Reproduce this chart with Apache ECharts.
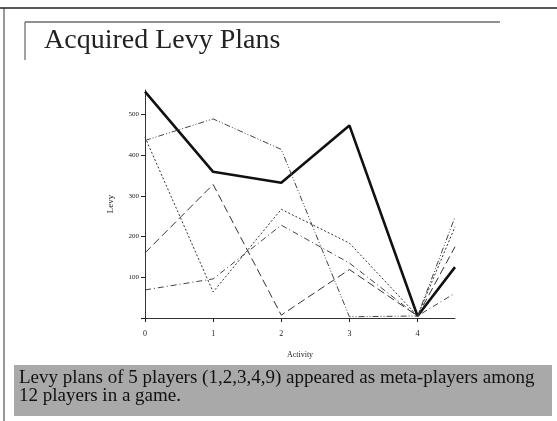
<!DOCTYPE html>
<html>
<head>
<meta charset="utf-8">
<script src="https://cdn.jsdelivr.net/npm/echarts@6/dist/echarts.min.js"></script>
<style>
  html, body { margin: 0; padding: 0; background: #fff; }
  #chart { width: 557px; height: 421px; }
</style>
</head>
<body>
<div id="chart"></div>
<script>
// activity steps (last point is where the lines stop, past 4)
var activity = [0, 1, 2, 3, 4, 4.55]
var xTicks = ['0', '1', '2', '3', '4']
var yTicks = [100, 200, 300, 400, 500]

// levy per player
var player1 = [556, 359, 332, 473, 5, 125]
var player2 = [436, 489, 414, 3, 5, 248]
var player3 = [444, 64, 267, 184, 5, 224]
var player4 = [160, 328, 7, 119, 5, 175]
var player5 = [69, 96, 228, 135, 5, 61]

var title = 'Acquired Levy Plans'
var caption = [
  'Levy plans of 5 players (1,2,3,4,9) appeared as meta-players among',
  '12 players in a game.'
]

function pairs(ys) {
  return ys.map(function(v, i) { return [activity[i], v] })
}

var chart = echarts.init(document.getElementById('chart'))
var serif = '"Liberation Serif", "DejaVu Serif", serif'

var option = {
  animation: false,
  backgroundColor: '#fff',
  grid: { left: 145, right: 102, top: 90, bottom: 103 },
  xAxis: {
    type: 'value',
    min: 0,
    max: 4.55,
    interval: 1,
    name: 'Activity',
    nameLocation: 'middle',
    nameGap: 33,
    nameTextStyle: { fontFamily: serif, fontSize: 8, color: '#222' },
    axisLine: { lineStyle: { color: '#333', width: 1 } },
    axisTick: { show: true, length: 4, inside: false, lineStyle: { color: '#222' } },
    axisLabel: {
      fontFamily: serif, fontSize: 8, color: '#222', margin: 12,
      showMaxLabel: false,
      formatter: function(v) {
        return xTicks.indexOf(String(v)) >= 0 ? String(v) : ''
      }
    },
    splitLine: { show: false }
  },
  yAxis: {
    type: 'value',
    min: 0,
    max: 560,
    interval: 100,
    name: 'Levy',
    nameLocation: 'middle',
    nameGap: 30,
    nameRotate: 90,
    nameTextStyle: { fontFamily: serif, fontSize: 9, color: '#222' },
    axisLine: { show: true, lineStyle: { color: '#333', width: 1 } },
    axisTick: { show: true, length: 4, lineStyle: { color: '#222' } },
    axisLabel: {
      fontFamily: serif, fontSize: 7, color: '#222', margin: 6,
      showMaxLabel: false,
      formatter: function(v) {
        return yTicks.indexOf(v) >= 0 ? String(v) : ''
      }
    },
    splitLine: { show: false }
  },
  series: [
    {
      type: 'line', data: pairs(player1), symbol: 'none',
      lineStyle: { color: '#111', width: 2.6, type: 'solid' }
    },
    {
      type: 'line', data: pairs(player2), symbol: 'none',
      lineStyle: { color: '#444', width: 1, type: [6, 2, 1, 2, 1, 2] }
    },
    {
      type: 'line', data: pairs(player3), symbol: 'none',
      lineStyle: { color: '#333', width: 1, type: [2, 2] }
    },
    {
      type: 'line', data: pairs(player4), symbol: 'none',
      lineStyle: { color: '#333', width: 1, type: [8, 4] }
    },
    {
      type: 'line', data: pairs(player5), symbol: 'none',
      lineStyle: { color: '#444', width: 1, type: [6, 3, 1, 3] }
    }
  ],
  graphic: [
    // outer slide frame
    { type: 'line', shape: { x1: 0, y1: 8, x2: 557, y2: 8 }, style: { stroke: '#222', lineWidth: 1.5 } },
    { type: 'line', shape: { x1: 4, y1: 8, x2: 4, y2: 421 }, style: { stroke: '#333', lineWidth: 1 } },
    // inner title frame
    { type: 'line', shape: { x1: 25, y1: 22, x2: 500, y2: 22 }, style: { stroke: '#222', lineWidth: 1.2 } },
    { type: 'line', shape: { x1: 25, y1: 22, x2: 25, y2: 60 }, style: { stroke: '#444', lineWidth: 1 } },
    {
      type: 'text', left: 44, top: 27,
      style: { text: title, font: '28px ' + serif, fill: '#222' }
    },
    // caption box
    {
      type: 'rect', shape: { x: 14, y: 365, width: 538, height: 51 },
      style: { fill: '#a9a9a9' }
    },
    {
      type: 'text', left: 19, top: 369,
      style: {
        text: caption.join('\n'), font: '19px ' + serif, fill: '#111', lineHeight: 18
      }
    }
  ]
}
chart.setOption(option)
</script>
</body>
</html>
